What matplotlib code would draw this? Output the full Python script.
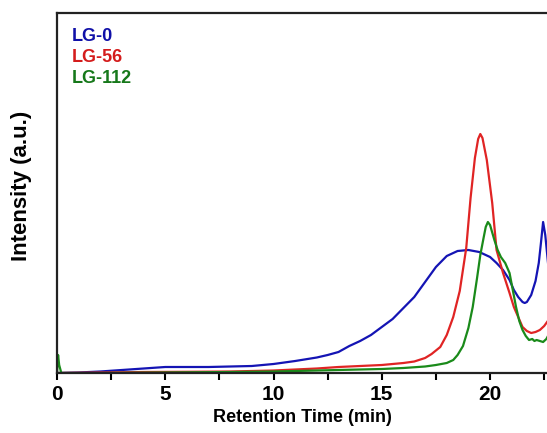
import matplotlib
matplotlib.use('Agg')
import matplotlib.pyplot as plt
from matplotlib.ticker import MultipleLocator

plt.rcParams['font.family'] = ['Liberation Sans', 'DejaVu Sans']
plt.rcParams['font.weight'] = 'bold'

# retention time (min) / intensity (a.u.)
t_lg0 = [0, 1, 2, 3, 4, 5, 6, 7, 8, 9, 10, 11, 12, 12.5, 13, 13.5, 14, 14.5, 15, 15.5,
         16, 16.5, 17, 17.5, 18, 18.5, 19, 19.5, 20, 20.3, 20.6, 20.9, 21.1, 21.3, 21.5,
         21.6, 21.7, 21.9, 22.1, 22.25, 22.35, 22.45, 22.55, 22.7]
i_lg0 = [0, 0.5, 1.5, 3, 4.5, 6, 6, 6, 6.5, 7, 9, 12, 15.5, 18, 21, 27, 32, 38, 46, 54,
         65, 76, 91, 106, 117, 122, 123, 121, 116, 110, 103, 93, 83, 76, 71,
         70, 71, 78, 92, 110, 130, 151, 138, 105]

t_lg56 = [0, 2, 4, 6, 8, 10, 11, 12, 13, 14, 15, 16, 16.5, 17, 17.3, 17.7, 18.0, 18.3,
          18.6, 18.9, 19.1, 19.3, 19.45, 19.55, 19.65, 19.85, 20.1, 20.3, 20.6, 20.9,
          21.1, 21.3, 21.5, 21.7, 21.9, 22.1, 22.3, 22.5, 22.7]
i_lg56 = [0, 0.5, 1, 1.2, 1.5, 2.5, 3.5, 4.5, 6, 7, 8, 10, 11.5, 15, 19, 26, 38, 56,
          82, 125, 175, 215, 234, 239, 235, 213, 170, 123, 100, 80,
          66, 56, 46, 42, 40, 41, 43, 47, 53]

t_lg112 = [0, 0.05, 0.1, 0.2, 2, 5, 8, 10, 12, 14, 15, 16, 17, 17.5, 18, 18.3, 18.5,
           18.75, 19.0, 19.2, 19.4, 19.55, 19.7, 19.8, 19.9, 20.0, 20.2, 20.35, 20.5,
           20.7, 20.9, 21.05, 21.2, 21.35, 21.5, 21.65, 21.8, 21.95, 22.05, 22.15, 22.3,
           22.45, 22.6, 22.7]
i_lg112 = [0, 18, 8, 0, 0, 0.5, 1, 1.5, 2.5, 3.5, 4, 5, 6.5, 8, 10, 13, 18,
           27, 45, 66, 95, 118, 135, 146, 151, 148, 133, 123, 116,
           110, 100, 83, 66, 52, 43, 37, 33, 34, 32, 33, 32,
           31, 34, 38]

labels = ['LG-0', 'LG-56', 'LG-112']
colors = ['#1414b4', '#e02424', '#1a8a1a']
text_colors = ['#1010a8', '#d41c1c', '#16781a']

fig = plt.figure(figsize=(5.47, 4.33), dpi=100)
ax = fig.add_axes([57 / 547, 60 / 433, 1 - 57 / 547, 360 / 433])

for t, y, c in zip([t_lg0, t_lg56, t_lg112], [i_lg0, i_lg56, i_lg112], colors):
    ax.plot(t, y, color=c, lw=1.6, solid_joinstyle='round')

ax.set_xlim(0, 22.63)
ax.set_ylim(0, 360)
ax.xaxis.set_major_locator(MultipleLocator(5))
ax.xaxis.set_minor_locator(MultipleLocator(2.5))
ax.set_yticks([])
ax.tick_params(axis='x', which='both', direction='out', length=5, width=1.5, pad=4,
               labelsize=15)
ax.spines['right'].set_visible(False)
for s in ['left', 'bottom', 'top']:
    ax.spines[s].set_linewidth(1.6)
    ax.spines[s].set_color('#222222')

ax.set_xlabel('Retention Time (min)', fontsize=13, fontweight='bold', labelpad=3)
ax.set_ylabel('Intensity (a.u.)', fontsize=16, fontweight='bold')
ax.yaxis.set_label_coords(-0.052, 0.52)

for k, (lab, c) in enumerate(zip(labels, text_colors)):
    ax.text(0.03, 0.935 - k * 0.058, lab, transform=ax.transAxes, color=c,
            fontsize=13, fontweight='bold', va='center', ha='left')

fig.savefig('out.png', dpi=100)
